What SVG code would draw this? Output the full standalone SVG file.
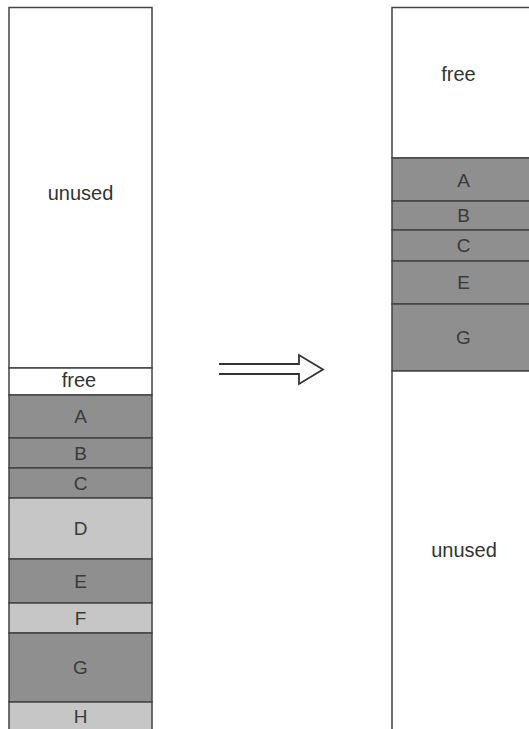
<svg xmlns="http://www.w3.org/2000/svg" width="529" height="729" viewBox="0 0 529 729">
<style>
.blk{stroke:#444;stroke-width:1.5}
.w{fill:#fff}
.d{fill:#8f8f8f}
.l{fill:#c6c6c6}
text{font-family:"Liberation Sans",Arial,sans-serif;text-anchor:middle}
.word{font-size:20px;fill:#333}
.let{font-size:19px;fill:#3a3a3a}
</style>
<rect width="529" height="729" fill="#fff"/>
<g id="left-column">
<g id="l-unused"><rect class="blk w" x="9" y="7.5" width="143" height="360.5"/><text class="word" x="80.5" y="200">unused</text></g>
<g id="l-free"><rect class="blk w" x="9" y="368" width="143" height="27"/><text class="word" x="79" y="387">free</text></g>
<g id="l-A"><rect class="blk d" x="9" y="395" width="143" height="43"/><text class="let" x="80.5" y="423">A</text></g>
<g id="l-B"><rect class="blk d" x="9" y="438" width="143" height="30"/><text class="let" x="80.5" y="459.5">B</text></g>
<g id="l-C"><rect class="blk d" x="9" y="468" width="143" height="30"/><text class="let" x="80.5" y="489.5">C</text></g>
<g id="l-D"><rect class="blk l" x="9" y="498" width="143" height="61"/><text class="let" x="80.5" y="535">D</text></g>
<g id="l-E"><rect class="blk d" x="9" y="559" width="143" height="44"/><text class="let" x="80.5" y="587.5">E</text></g>
<g id="l-F"><rect class="blk l" x="9" y="603" width="143" height="30"/><text class="let" x="80.5" y="624.5">F</text></g>
<g id="l-G"><rect class="blk d" x="9" y="633" width="143" height="69"/><text class="let" x="80.5" y="674">G</text></g>
<g id="l-H"><rect class="blk l" x="9" y="702" width="143" height="40"/><text class="let" x="80.5" y="723">H</text></g>
</g>
<g id="connectors">
<path d="M219,364 H299 V355 L323,369.5 L299,384 V374 H219" fill="#fff" stroke="#333" stroke-width="1.8" stroke-linejoin="miter"/>
</g>
<g id="right-column">
<g id="r-free"><rect class="blk w" x="392" y="7.5" width="143" height="150.5"/><text class="word" x="458.5" y="81">free</text></g>
<g id="r-A"><rect class="blk d" x="392" y="158" width="143" height="43"/><text class="let" x="463.5" y="187">A</text></g>
<g id="r-B"><rect class="blk d" x="392" y="201" width="143" height="29"/><text class="let" x="463.5" y="222">B</text></g>
<g id="r-C"><rect class="blk d" x="392" y="230" width="143" height="31"/><text class="let" x="463.5" y="252">C</text></g>
<g id="r-E"><rect class="blk d" x="392" y="261" width="143" height="43"/><text class="let" x="463.5" y="289">E</text></g>
<g id="r-G"><rect class="blk d" x="392" y="304" width="143" height="67"/><text class="let" x="463.5" y="344">G</text></g>
<g id="r-unused"><rect class="blk w" x="392" y="371" width="143" height="370"/><text class="word" x="464" y="557">unused</text></g>
</g>
</svg>
